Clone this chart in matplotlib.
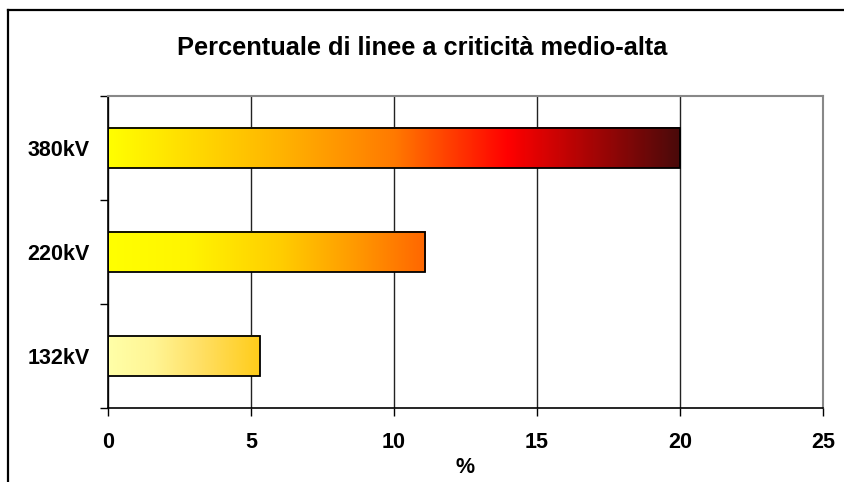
import matplotlib
matplotlib.use("Agg")
import matplotlib.pyplot as plt
import numpy as np
from matplotlib.colors import LinearSegmentedColormap
from matplotlib.lines import Line2D

plt.rcParams['font.family'] = ['Liberation Sans', 'DejaVu Sans']

categories = ["132kV", "220kV", "380kV"]
values = [5.3, 11.1, 20.0]
x_ticks = [0, 5, 10, 15, 20, 25]
title = "Percentuale di linee a criticità medio-alta"
xlabel = "%"

gradients = [
    [(0.0, "#FFFFA8"), (0.3, "#FFF594"), (0.6, "#FFE066"), (1.0, "#FFCC1A")],
    [(0.0, "#FFFF00"), (0.25, "#FFF500"), (0.55, "#FFCC00"), (0.78, "#FF9900"), (1.0, "#FF6600")],
    [(0.0, "#FFFF00"), (0.3, "#FFB400"), (0.5, "#FF7A00"), (0.7, "#FF0000"), (1.0, "#4A0A0A")],
]

W, H = 844, 482
fig = plt.figure(figsize=(W / 100, H / 100), dpi=100)
ax = fig.add_axes([108 / W, 1 - 408 / H, (823 - 108) / W, (408 - 96) / H])

bar_h = 0.39
ypos = np.arange(len(categories))
for y, v, g in zip(ypos, values, gradients):
    cmap = LinearSegmentedColormap.from_list("g", g)
    grad = np.linspace(0, 1, 256).reshape(1, -1)
    ax.imshow(grad, cmap=cmap, aspect="auto", extent=(0, v, y - bar_h / 2, y + bar_h / 2),
              interpolation="bilinear", zorder=2)
    ax.barh(y, v, height=bar_h, fill=False, edgecolor="black", linewidth=1.3, zorder=3)

fs = 15.5
ax.set_xlim(0, 25)
ax.set_ylim(-0.5, len(categories) - 0.5)
ax.set_xticks(x_ticks)
ax.set_xticklabels([str(t) for t in x_ticks], fontsize=fs, fontweight="bold")
ax.tick_params(axis="x", length=5.5, width=1, pad=11.5, direction="out")
ax.set_yticks(np.arange(-0.5, len(categories), 1.0))
ax.set_yticklabels([])
ax.set_yticks(ypos, minor=True)
ax.set_yticklabels(categories, minor=True, fontsize=fs, fontweight="bold")
ax.tick_params(axis="y", which="major", length=5.5, width=1, direction="out")
ax.tick_params(axis="y", which="minor", length=0, pad=13)
ax.set_xlabel(xlabel, fontsize=fs, fontweight="bold", labelpad=3)

ax.grid(axis="x", color="#222222", linewidth=1, zorder=0)
ax.set_axisbelow(True)
for s in ["left", "bottom"]:
    ax.spines[s].set_color("black")
    ax.spines[s].set_linewidth(1.2)
for s in ["top", "right"]:
    ax.spines[s].set_color("#888888")
    ax.spines[s].set_linewidth(1.5)

fig.text(422 / W, 1 - 48 / H, title, ha="center", va="center", fontsize=18.3, fontweight="bold")

fig.add_artist(Line2D([8 / W, 8 / W], [0, 1 - 10 / H], color="black", linewidth=1.6, transform=fig.transFigure))
fig.add_artist(Line2D([8 / W, 1], [1 - 10 / H, 1 - 10 / H], color="black", linewidth=1.6, transform=fig.transFigure))

fig.savefig("out.png", dpi=100)
